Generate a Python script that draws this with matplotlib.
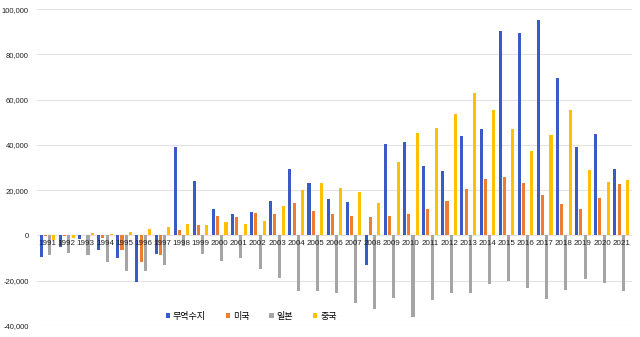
import numpy as np
import matplotlib
matplotlib.use("Agg")
import matplotlib.pyplot as plt

plt.rcParams['font.family'] = ['Liberation Sans', 'Noto Sans CJK KR']

years = [str(y) for y in range(1991, 2022)]
# 무역수지 (total trade balance)
balance = [-9655, -5143, -1564, -6335, -10061, -20624, -8452, 39031, 23933, 11786,
           9341, 10344, 14991, 29382, 23180, 16082, 14643, -13267, 40449, 41172,
           30801, 28285, 44047, 47150, 90258, 89233, 95216, 69657, 38890, 44865, 29307]
# 미국
usa = [-300, -200, 200, -1000, -6600, -11800, -8600, 2500, 4600, 8400,
       8200, 9800, 9300, 14100, 10900, 9600, 8500, 8000, 8600, 9400,
       11600, 15200, 20500, 25000, 25800, 23300, 17900, 13900, 11500, 16600, 22700]
# 일본
japan = [-8800, -7900, -8500, -11900, -15600, -15700, -13100, -4600, -8300, -11400,
         -10100, -14700, -19000, -24400, -24400, -25400, -29900, -32700, -27700, -36100,
         -28600, -25600, -25400, -21600, -20300, -23100, -28300, -24100, -19200, -20900, -24600]
# 중국
china = [-2100, -1100, 1200, 700, 1700, 2800, 3500, 5000, 4800, 5700,
         4900, 6400, 13200, 20200, 23300, 20900, 19000, 14500, 32500, 45300,
         47500, 53500, 62800, 55200, 46900, 37500, 44300, 55600, 29000, 23700, 24300]

series = [balance, usa, japan, china]
names = ['무역수지', '미국', '일본', '중국']
colors = ['#3A5BC5', '#ED7D31', '#A5A5A5', '#FFC000']

fig = plt.figure(figsize=(6.4, 3.37), dpi=100)
ax = fig.add_axes([0.058, 0.033, 0.929, 0.94])

x = np.arange(len(years))
step = 0.22
for i, (vals, name, c) in enumerate(zip(series, names, colors)):
    ax.bar(x + (i - 1.5) * step, vals, width=0.16, color=c, label=name, zorder=3)

ax.set_xlim(-0.55, len(years) - 0.45)
ax.set_ylim(-40000, 100000)
ax.set_yticks(range(-40000, 100001, 20000))
ax.set_yticklabels(['{:,}'.format(v) for v in range(-40000, 100001, 20000)],
                   fontsize=5.5, color='#222222')
ax.yaxis.grid(True, color='#E3E3E3', linewidth=0.8, zorder=0)
ax.axhline(0, color='#D9D9D9', linewidth=0.8, zorder=1)

for s in ['top', 'right', 'left', 'bottom']:
    ax.spines[s].set_visible(False)
ax.set_xticks([])
ax.tick_params(axis='y', length=0, pad=6)

# year labels sit next to the zero line, drawn over the bars
for xi, yr in zip(x, years):
    ax.annotate(yr, (xi, 0), xytext=(0, -3), textcoords='offset points',
                ha='center', va='top', fontsize=5.8, color='#222222', zorder=5)

ax.legend(loc='center', bbox_to_anchor=(0.36, 0.03), ncol=4, frameon=False,
          fontsize=6.5, handlelength=0.5, handleheight=0.5, columnspacing=2.2,
          handletextpad=0.3)

fig.savefig('out.png', dpi=100)
